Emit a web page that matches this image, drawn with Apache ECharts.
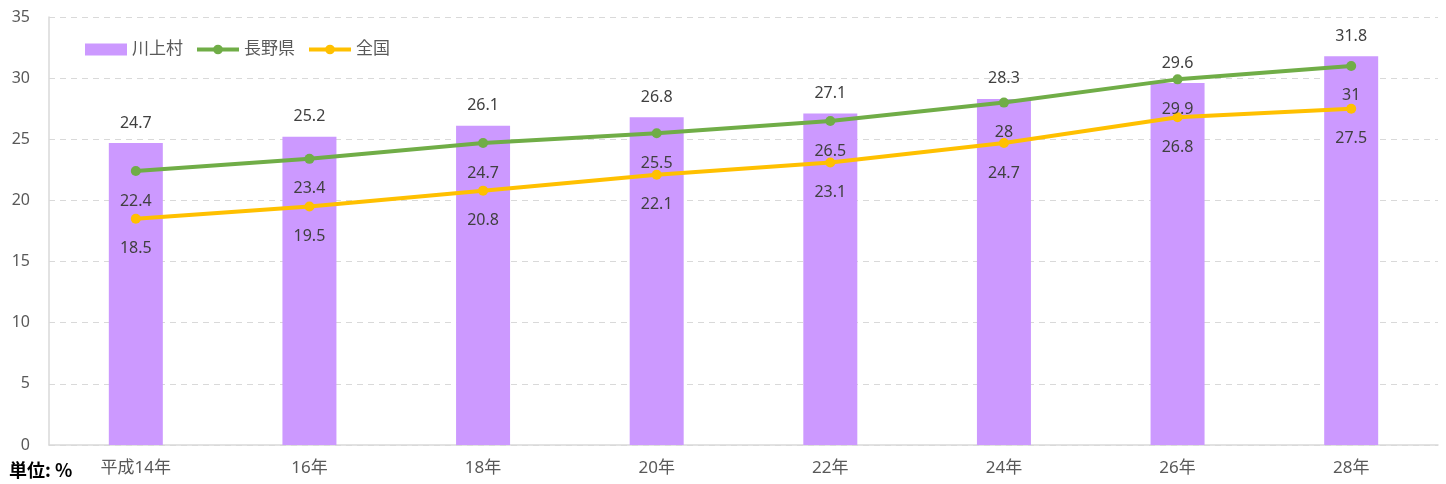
<!DOCTYPE html>
<html>
<head>
<meta charset="utf-8">
<script src="https://cdn.jsdelivr.net/npm/echarts@6/dist/echarts.min.js"></script>
<style>
    html, body {margin: 0; padding: 0; background: #fff;}
    #chart {width: 1446px; height: 484px;}
</style>
</head>
<body>
<div id="chart"></div>
<script>
// 年次
let years = ['平成14年', '16年', '18年', '20年', '22年', '24年', '26年', '28年']

// 川上村
let kawakami = [24.7, 25.2, 26.1, 26.8, 27.1, 28.3, 29.6, 31.8]
// 長野県
let nagano = [22.4, 23.4, 24.7, 25.5, 26.5, 28, 29.9, 31]
// 全国
let zenkoku = [18.5, 19.5, 20.8, 22.1, 23.1, 24.7, 26.8, 27.5]

let fontFamily = '"Noto Sans", "Noto Sans CJK JP", sans-serif'
let labelColor = '#404040'

function lineSeries(name, data, color) {
    return {
        name: name,
        type: 'line',
        data: data,
        symbol: 'circle',
        symbolSize: 10,
        lineStyle: {width: 4, color: color},
        itemStyle: {color: color},
        label: {
            show: true,
            position: 'bottom',
            distance: 17,
            color: labelColor,
            fontSize: 16,
            fontFamily: fontFamily,
        },
        z: 3,
    }
}

let chart = echarts.init(document.getElementById('chart'))

chart.setOption({
    animation: false,
    textStyle: {fontFamily: fontFamily},
    grid: {left: 49, right: 8, top: 17, bottom: 39, containLabel: false},
    legend: {
        left: 80,
        top: 36,
        itemWidth: 42,
        itemHeight: 12,
        itemGap: 12,
        lineStyle: {width: 4},
        textStyle: {fontSize: 17, color: '#595959', fontFamily: fontFamily},
        data: [
            {name: '川上村', icon: 'rect'},
            {name: '長野県'},
            {name: '全国'},
        ],
    },
    graphic: [{
        type: 'text',
        left: 9,
        top: 461,
        style: {
            text: '単位: %',
            font: 'bold 18px "Noto Sans CJK JP", sans-serif',
            fill: '#000',
        },
    }],
    xAxis: {
        type: 'category',
        data: years,
        axisLine: {lineStyle: {color: '#d9d9d9', width: 1.5}},
        axisTick: {show: false},
        axisLabel: {fontSize: 17, color: '#595959', margin: 15, fontFamily: fontFamily},
    },
    yAxis: {
        type: 'value',
        min: 0,
        max: 35,
        interval: 5,
        axisLine: {show: true, lineStyle: {color: '#d9d9d9', width: 1.5}},
        axisLabel: {fontSize: 16, color: '#595959', margin: 19, fontFamily: fontFamily},
        splitLine: {lineStyle: {type: [6, 5], color: '#d9d9d9', width: 1}},
    },
    series: [
        {
            name: '川上村',
            type: 'bar',
            data: kawakami,
            barWidth: 54,
            itemStyle: {color: '#cc99ff'},
            label: {
                show: true,
                position: 'top',
                distance: 12,
                color: labelColor,
                fontSize: 16,
                fontFamily: fontFamily,
            },
            z: 2,
        },
        lineSeries('長野県', nagano, '#70ad47'),
        lineSeries('全国', zenkoku, '#ffc000'),
    ],
})
</script>
</body>
</html>
